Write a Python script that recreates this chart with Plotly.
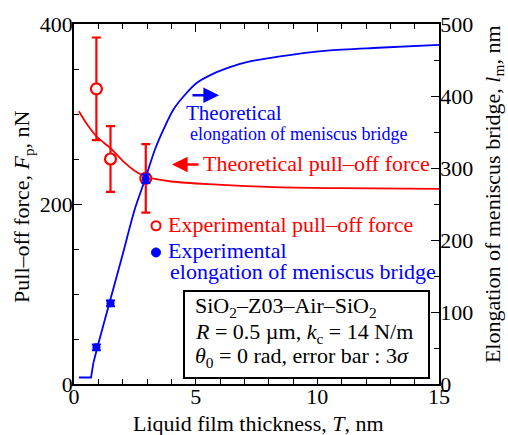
import plotly.graph_objects as go

# ---------------- data ----------------
T_theory_F = [0.2, 0.5, 0.93, 1.5, 2.0, 2.6, 3.0, 3.5, 4.0, 5.5, 8.2, 11.0, 15.0]
F_theory = [303, 290, 275, 262, 248, 235, 230, 227, 225, 222, 218.7, 217.6, 216.8]

T_theory_l = [0.2, 0.7, 0.8, 1.0, 1.5, 2.0, 2.5, 2.93, 3.33, 3.67, 4.08, 4.49,
              5.04, 5.73, 6.41, 7.1, 8.47, 10.4, 12.5, 15.0]
l_theory = [9, 9, 30, 56, 118, 180, 243, 285, 326, 353, 381, 399,
            418, 431, 440, 447, 455, 463, 467, 471]

T_exp = [0.92, 1.5, 2.95]
F_exp = [328, 250, 228.5]
F_err = [57, 36.5, 38]
l_exp = [51, 112, 285]
l_err = [4, 4, 6]

x_ticks = [0, 5, 10, 15]
yF_ticks = [0, 200, 400]
yl_ticks = [0, 100, 200, 300, 400, 500]

FONT = "Liberation Serif"
RED = "#ff0000"
BLUE = "#0000ff"

# plot area geometry (pixels) for placing decorations
L, R, T, B = 74, 439, 20, 384


def px(x):
    return (x - L) / (R - L)


def py(y):
    return (B - y) / (B - T)


fig = go.Figure()

fig.add_trace(go.Scatter(x=T_theory_F, y=F_theory, mode="lines",
                         line=dict(color=RED, width=1.8, shape="spline", smoothing=0.8),
                         showlegend=False, yaxis="y"))
fig.add_trace(go.Scatter(x=T_exp, y=F_exp, mode="markers",
                         marker=dict(symbol="circle", size=11, color="white",
                                     line=dict(color=RED, width=2.2)),
                         error_y=dict(type="data", array=F_err, color=RED,
                                      thickness=2.2, width=4.5),
                         showlegend=False, yaxis="y"))
# flat start of the elongation curve (sharp corner) + smooth remainder
fig.add_trace(go.Scatter(x=T_theory_l[:3], y=l_theory[:3], mode="lines",
                         line=dict(color=BLUE, width=1.8),
                         showlegend=False, yaxis="y2"))
fig.add_trace(go.Scatter(x=T_theory_l[2:], y=l_theory[2:], mode="lines",
                         line=dict(color=BLUE, width=1.8, shape="spline", smoothing=0.8),
                         showlegend=False, yaxis="y2"))
fig.add_trace(go.Scatter(x=T_exp, y=l_exp, mode="markers",
                         marker=dict(symbol="circle", size=8, color=BLUE),
                         error_y=dict(type="data", array=l_err, color=BLUE,
                                      thickness=2, width=4.5),
                         showlegend=False, yaxis="y2"))

axis_common = dict(showline=True, linecolor="black", linewidth=1.5,
                   ticks="inside", tickcolor="black", tickwidth=1.2, ticklen=8,
                   showgrid=False, zeroline=False,
                   tickfont=dict(family=FONT, size=22, color="black"))
minor_common = dict(ticks="inside", ticklen=5, tickcolor="black", tickwidth=1.2)

fig.update_layout(
    width=508, height=435,
    margin=dict(l=L, r=508 - R, t=T, b=435 - B),
    paper_bgcolor="white", plot_bgcolor="white",
    font=dict(family=FONT, size=22, color="black"),
    xaxis=dict(range=[0, 15], tickvals=x_ticks, mirror="ticks", ticklabelstandoff=-8,
               minor=dict(dtick=1, **minor_common), **axis_common),
    yaxis=dict(range=[0, 400], tickvals=yF_ticks, ticklabelstandoff=-5,
               minor=dict(dtick=50, **minor_common), **axis_common),
    yaxis2=dict(range=[0, 500], tickvals=yl_ticks, overlaying="y", side="right",
                ticklabelstandoff=-5,
                minor=dict(dtick=50, **minor_common), **axis_common),
)

ann = []


def text(x, y, s, color="black", size=22, xanchor="left", angle=0):
    ann.append(dict(x=px(x), y=py(y), xref="paper", yref="paper", text=s,
                    showarrow=False, xanchor=xanchor, yanchor="middle",
                    textangle=angle,
                    font=dict(family=FONT, size=size, color=color)))


# axis titles
text(258, 424, "Liquid film thickness, <i>T</i>, nm", xanchor="center")
text(23, 205, "Pull–off force, <i>F</i><sub>p</sub>, nN", xanchor="center", angle=-90)
text(494, 192, "Elongation of meniscus bridge, <i>l</i><sub>m</sub>, nm", xanchor="center", angle=-90)

# curve labels
text(184, 110, "Theoretical", BLUE, 21)
text(188, 131, "elongation of meniscus bridge", BLUE, 18)
text(201, 161, "Theoretical pull–off force", RED, 22)

# legend-like labels
text(166, 223, "Experimental pull–off force", RED, 22)
text(166, 249, "Experimental", BLUE, 22)
text(168, 270, "elongation of meniscus bridge", BLUE, 22)

# arrows
ann.append(dict(x=px(219), y=py(92), xref="paper", yref="paper", ax=-28, ay=0,
                text="", showarrow=True, arrowhead=2, arrowsize=1.2, arrowwidth=2.6,
                arrowcolor=BLUE))
ann.append(dict(x=px(172), y=py(162), xref="paper", yref="paper", ax=28, ay=0,
                text="", showarrow=True, arrowhead=2, arrowsize=1.2, arrowwidth=2.6,
                arrowcolor=RED))

# box text
text(193, 306, "SiO<sub>2</sub>–Z03–Air–SiO<sub>2</sub>")
text(193, 332, "<i>R</i> = 0.5 µm, <i>k</i><sub>c</sub> = 14 N/m")
text(193, 357, "<i>θ</i><sub>0</sub> = 0 rad, error bar : 3<i>σ</i>")

fig.update_layout(annotations=ann)

shapes = [
    dict(type="rect", xref="paper", yref="paper", x0=px(184), x1=px(429),
         y0=py(378), y1=py(290), line=dict(color="black", width=2),
         fillcolor="white", layer="above"),
    dict(type="circle", xref="paper", yref="paper", xsizemode="pixel", ysizemode="pixel",
         xanchor=px(156), yanchor=py(224), x0=-4.5, x1=4.5, y0=-4.5, y1=4.5,
         line=dict(color=RED, width=2), fillcolor="white"),
    dict(type="circle", xref="paper", yref="paper", xsizemode="pixel", ysizemode="pixel",
         xanchor=px(156), yanchor=py(251), x0=-4.5, x1=4.5, y0=-4.5, y1=4.5,
         line=dict(color=BLUE, width=1), fillcolor=BLUE),
]
fig.update_layout(shapes=shapes)

fig.write_html("out.html")
